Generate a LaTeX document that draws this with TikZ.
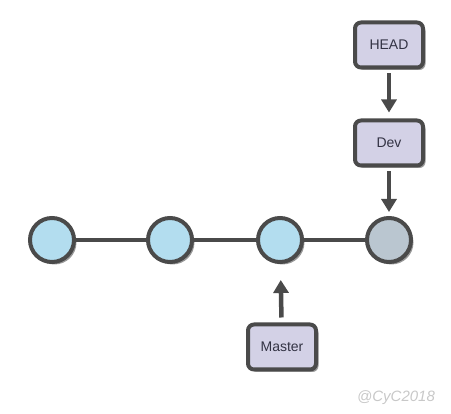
\documentclass[tikz,border=0pt]{standalone}
\usepackage{fontspec}
\setmainfont{Liberation Sans}
\usetikzlibrary{shadows,arrows.meta}
\definecolor{edgec}{HTML}{4A4A4A}
\definecolor{commitc}{HTML}{B3DDEF}
\definecolor{headc}{HTML}{BAC6D0}
\definecolor{boxc}{HTML}{D3D1E6}
\definecolor{wmark}{HTML}{C8C8C8}
\definecolor{textc}{HTML}{333344}
\tikzset{
  commit/.style={circle,draw=edgec,line width=4pt,fill=commitc,minimum size=44pt,inner sep=0pt,
    drop shadow={shadow xshift=2.5pt,shadow yshift=-2.5pt,opacity=0.4,fill=black}},
  refbox/.style={rectangle,rounded corners=6pt,draw=edgec,line width=4pt,fill=boxc,
    minimum width=68pt,minimum height=45pt,inner sep=0pt,text=textc,font=\fontsize{14}{16}\selectfont,
    drop shadow={shadow xshift=2.5pt,shadow yshift=-2.5pt,opacity=0.4,fill=black}},
  link/.style={draw=edgec,line width=4pt},
  ptr/.style={draw=edgec,line width=4.5pt,-{Triangle[length=13pt,width=15pt]}},
}
\begin{document}
\begin{tikzpicture}[x=1pt,y=-1pt]
\useasboundingbox (0,0) rectangle (451,414);
\node[commit] (c1) at (52,240) {};
\node[commit] (c2) at (170,240) {};
\node[commit] (c3) at (280,240) {};
\node[commit,fill=headc] (c4) at (389,240) {};
\draw[link] (c1) -- (c2);
\draw[link] (c2) -- (c3);
\draw[link] (c3) -- (c4);
\node[refbox] (head) at (389,45) {HEAD};
\node[refbox] (dev) at (389,143) {Dev};
\node[refbox] (master) at (282,347) {Master};
\draw[ptr,shorten <=4pt,shorten >=6pt] (head) -- (dev);
\draw[ptr,shorten <=4pt,shorten >=4pt] (dev) -- (c4);
\draw[ptr,shorten <=5pt,shorten >=16pt] (master) -- (c3);
\node[font=\itshape\fontsize{15}{17}\selectfont,text=wmark] (wm) at (396,398) {@CyC2018};
\end{tikzpicture}
\end{document}
